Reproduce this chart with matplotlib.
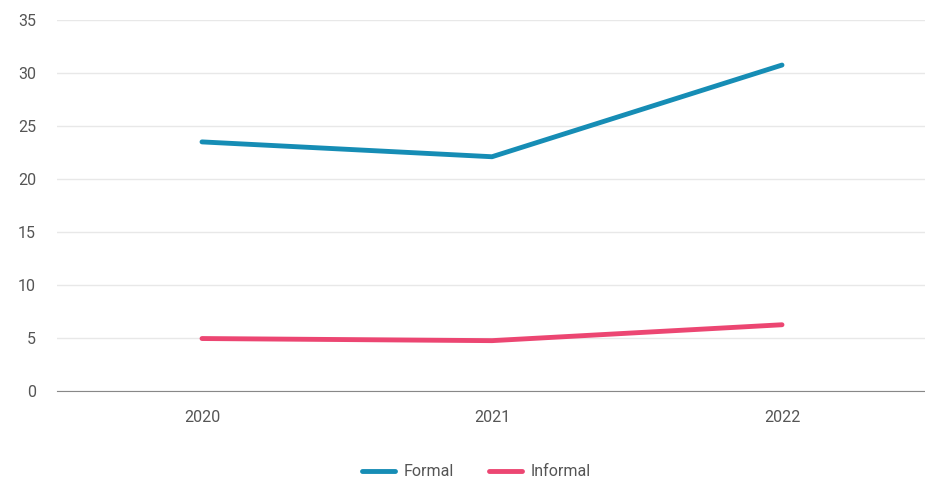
import matplotlib
matplotlib.use("Agg")
import matplotlib.pyplot as plt

years = ["2020", "2021", "2022"]
formal = [23.5, 22.1, 30.75]
informal = [4.95, 4.75, 6.25]
yticks = [0, 5, 10, 15, 20, 25, 30, 35]

plt.rcParams['font.family'] = ['Roboto', 'DejaVu Sans']

W, H = 925, 487
fig = plt.figure(figsize=(W/100, H/100), dpi=100)
ax = fig.add_axes([57/W, 1-391/H, (927-57)/W, (391-20)/H])

x = range(len(years))
ax.plot(x, formal, color="#168db5", lw=3.5, solid_capstyle="round", label="Formal")
ax.plot(x, informal, color="#ec4672", lw=3.5, solid_capstyle="round", label="Informal")

ax.set_xlim(-0.5, len(years) - 0.5)
ax.set_ylim(0, 35)
ax.set_yticks(yticks)
ax.set_xticks(list(x))
ax.set_xticklabels(years)
ax.grid(axis="y", color="#e8e8e8", lw=1)
ax.set_axisbelow(True)
for s in ["top", "right", "left"]:
    ax.spines[s].set_visible(False)
ax.spines["bottom"].set_color("#888888")
ax.tick_params(axis="both", length=0, colors="#555555", labelsize=11.5)
ax.tick_params(axis="y", pad=15)
ax.tick_params(axis="x", pad=14)

leg = fig.legend(loc="center", bbox_to_anchor=(476/W, 1-472/H), ncol=2, frameon=False,
                 fontsize=11.5, handlelength=2.1, columnspacing=2.2, handletextpad=0.5)
for t in leg.get_texts():
    t.set_color("#555555")

fig.savefig("out.png", dpi=100)
